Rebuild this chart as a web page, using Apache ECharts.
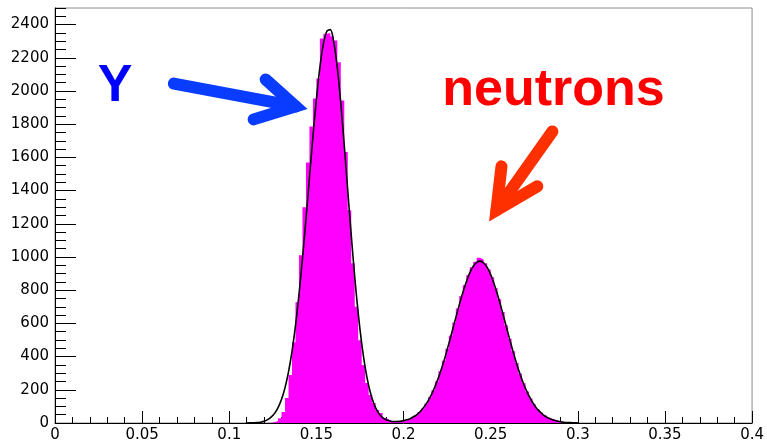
<!DOCTYPE html>
<html>
<head>
<meta charset="utf-8">
<script src="https://cdn.jsdelivr.net/npm/echarts@6/dist/echarts.min.js"></script>
<style>
  html, body { margin: 0; padding: 0; background: #fff; }
  #chart { width: 767px; height: 446px; }
</style>
</head>
<body>
<div id="chart"></div>
<script>
// histogram: bins of 0.002 starting at 0.120
const binWidth = 0.002
const firstEdge = 0.12
const counts = [
  0, 2, 4, 12, 28, 66, 150, 289, 487, 728,
  1010, 1299, 1570, 1786, 1955, 2075, 2316, 2345, 2350, 2330,
  2304, 2173, 1943, 1632, 1281, 962, 700, 499, 349, 241,
  168, 120, 78, 60, 30, 18, 10, 8, 9, 11,
  16, 24, 33, 47, 66, 88, 118, 155, 198, 250,
  312, 375, 447, 525, 605, 690, 765, 830, 890, 938,
  972, 995, 985, 962, 925, 878, 812, 745, 668, 588,
  508, 432, 362, 296, 240, 190, 148, 112, 85, 62,
  46, 32, 22, 15, 10, 6, 3
]

// fit curve sampled every 0.002 from 0.110
const fitStart = 0.11
const fitStep = 0.002
const fitValues = [
  0, 1, 1, 2, 5, 10, 20, 35, 58, 93,
  143, 213, 308, 432, 587, 774, 990, 1227, 1476, 1723,
  1950, 2142, 2283, 2360, 2370, 2292, 2139, 1926, 1671, 1399,
  1130, 879, 660, 478, 334, 225, 146, 91, 55, 33,
  20, 13, 9, 9, 10, 14, 19, 27, 39, 54,
  74, 100, 132, 171, 218, 272, 334, 403, 478, 556,
  635, 713, 785, 850, 904, 944, 968, 975, 964, 937,
  894, 838, 771, 697, 619, 540, 462, 389, 321, 261,
  208, 163, 125, 94, 70, 51, 36, 26, 18, 12,
  8, 5, 3, 2, 1, 1
]

// annotations in data units: [x, y]
const gammaArrow = { start: [0.0682, 2045], tip: [0.1381, 1907], wings: [[0.1209, 2069], [0.1140, 1829]] }
const neutronArrow = { start: [0.2854, 1756], tip: [0.2533, 1281], wings: [[0.2562, 1546], [0.2768, 1426]] }
const gammaLabel = { text: 'Y', pos: [0.0245, 2025] }
const neutronLabel = { text: 'neutrons', pos: [0.2222, 2004] }

const xTicks = [0, 0.4, 0.05, 0.01]
const yTicks = [0, 2500, 200, 50]

let histData = counts.map((c, i) => [firstEdge + i * binWidth, c])
histData.push([firstEdge + counts.length * binWidth, 0])
let fitData = fitValues.map((v, i) => [fitStart + i * fitStep, v])

const labelFont = { color: '#000', fontFamily: 'DejaVu Sans', fontSize: 15 }

let chart = echarts.init(document.getElementById('chart'))
chart.setOption({
  animation: false,
  backgroundColor: '#fff',
  grid: {
    left: 55, right: 14, top: 8, bottom: 23,
    show: true, borderColor: '#8a8a8a', borderWidth: 1, backgroundColor: '#fff',
  },
  xAxis: [
    {
      type: 'value', min: xTicks[0], max: xTicks[1], interval: xTicks[2],
      axisLine: { lineStyle: { color: '#000', width: 1 } },
      axisTick: { inside: true, length: 12, lineStyle: { color: '#000' } },
      axisLabel: Object.assign({ margin: 5, formatter: v => String(parseFloat(v.toFixed(3))) }, labelFont),
      splitLine: { show: false },
    },
    {
      type: 'value', position: 'bottom', min: xTicks[0], max: xTicks[1], interval: xTicks[3],
      axisLine: { show: false },
      axisTick: { inside: true, length: 6, lineStyle: { color: '#000' } },
      axisLabel: { show: false },
      splitLine: { show: false },
    },
  ],
  yAxis: [
    {
      type: 'value', min: yTicks[0], max: yTicks[1], interval: yTicks[2],
      axisLine: { show: true, lineStyle: { color: '#000', width: 1 } },
      axisTick: { show: true, inside: true, length: 21, lineStyle: { color: '#000' } },
      axisLabel: Object.assign({ margin: 6, showMaxLabel: false, formatter: v => String(Math.round(v)) }, labelFont),
      splitLine: { show: false },
    },
    {
      type: 'value', position: 'left', min: yTicks[0], max: yTicks[1], interval: yTicks[3],
      axisLine: { show: false },
      axisTick: { show: true, inside: true, length: 11, lineStyle: { color: '#000' } },
      axisLabel: { show: false },
      splitLine: { show: false },
    },
  ],
  series: [
    {
      type: 'line', step: 'end', data: histData, symbol: 'none',
      lineStyle: { width: 0, color: '#ff00ff' },
      areaStyle: { color: '#ff00ff', opacity: 1 },
      z: 2,
    },
    {
      type: 'line', data: fitData, symbol: 'none', smooth: 0.3,
      lineStyle: { width: 1.6, color: '#000' },
      z: 3,
    },
  ],
})

function px(p) {
  return chart.convertToPixel({ gridIndex: 0 }, p)
}

function arrow(a, color) {
  let s = px(a.start), t = px(a.tip)
  let w1 = px(a.wings[0]), w2 = px(a.wings[1])
  let style = { stroke: color, lineWidth: 12, lineCap: 'round', lineJoin: 'miter', miterLimit: 10, fill: null }
  return [
    { type: 'polyline', shape: { points: [s, t] }, style: style, z: 10 },
    { type: 'polyline', shape: { points: [w1, t, w2] }, style: style, z: 10 },
  ]
}

function label(l, color) {
  let p = px(l.pos)
  return {
    type: 'text', x: p[0], y: p[1], z: 10,
    style: {
      text: l.text, fill: color, fontSize: 52, fontWeight: 'bold',
      fontFamily: 'Liberation Sans', verticalAlign: 'middle', align: 'left',
    },
  }
}

chart.setOption({
  graphic: [].concat(
    arrow(gammaArrow, '#0a3cff'),
    arrow(neutronArrow, '#ff3000'),
    [label(gammaLabel, '#0000ff'), label(neutronLabel, '#ff0000')]
  ),
})
</script>
</body>
</html>
